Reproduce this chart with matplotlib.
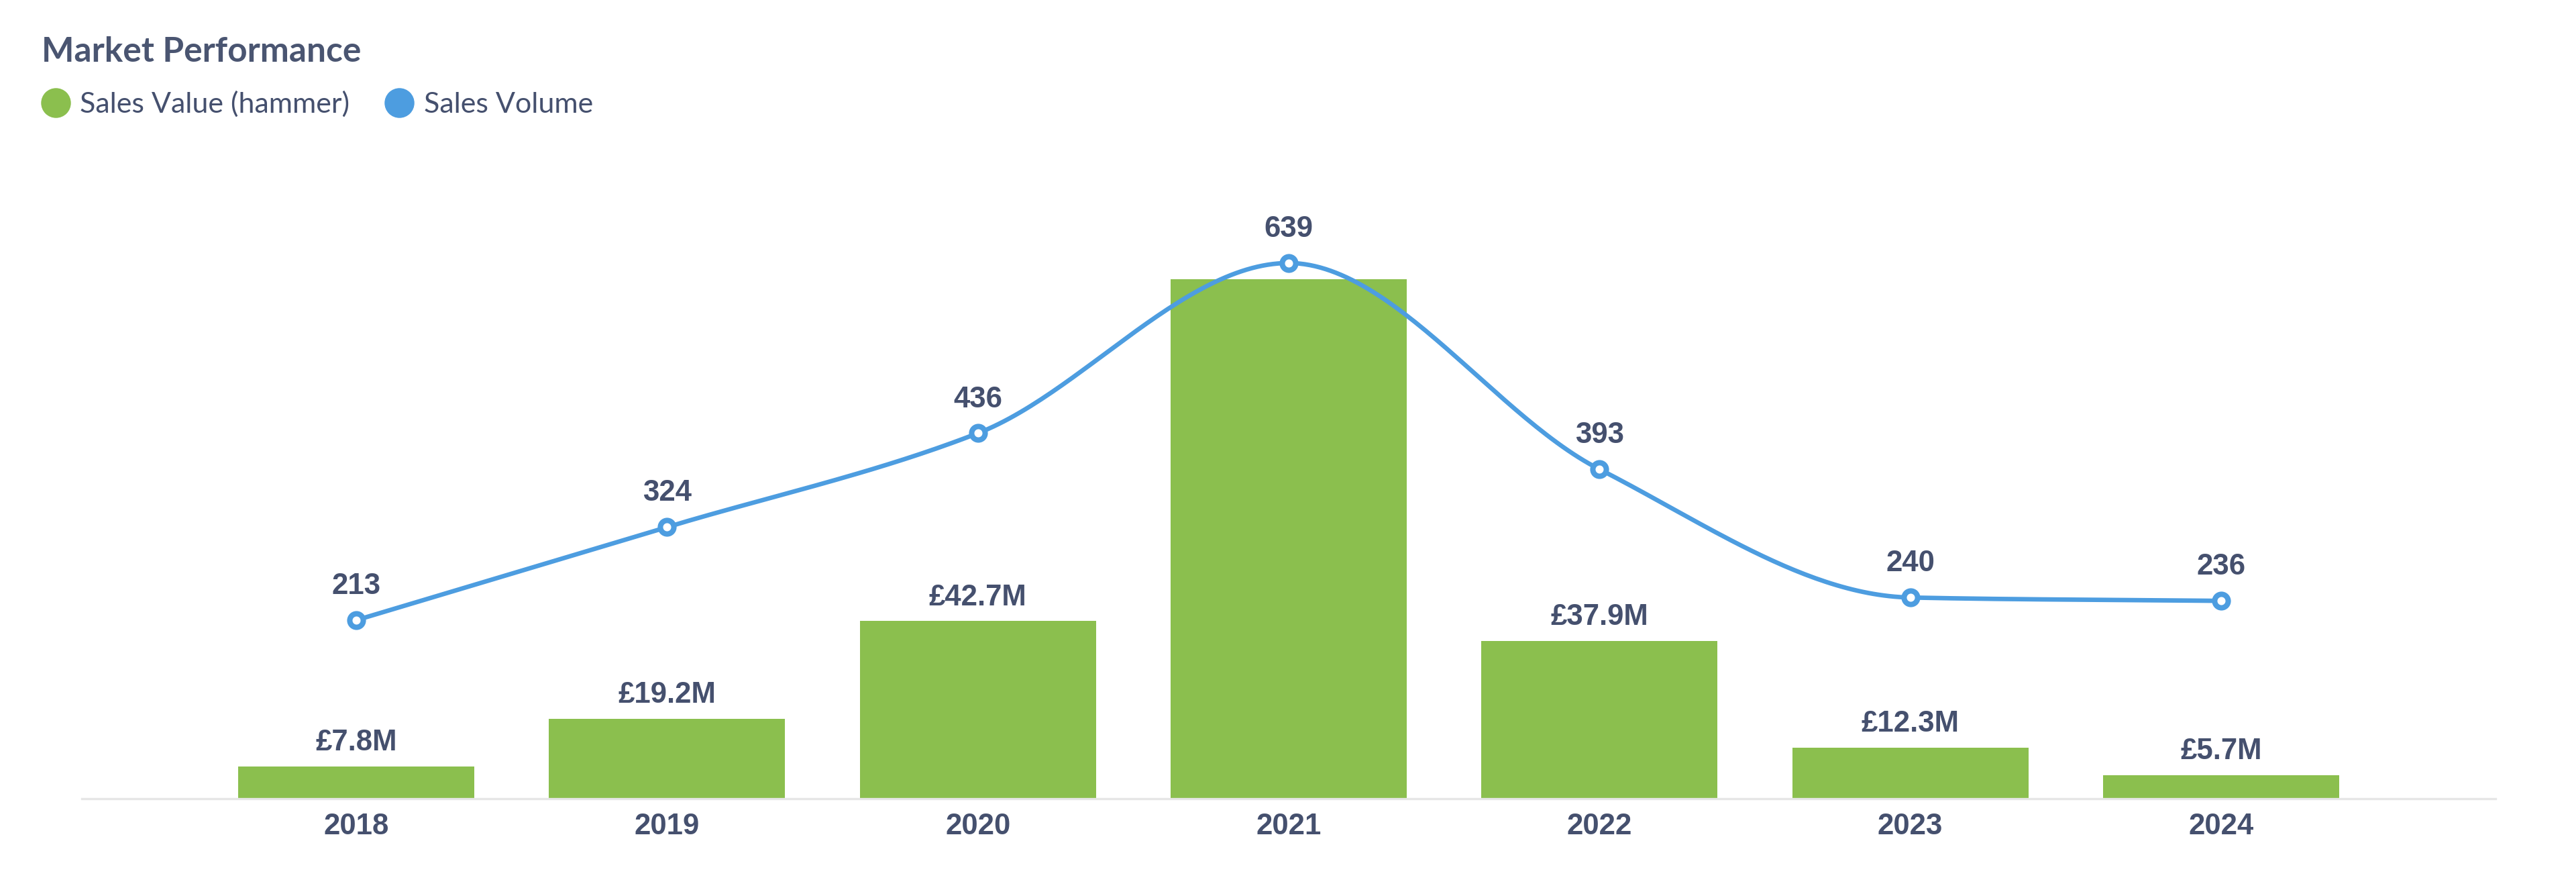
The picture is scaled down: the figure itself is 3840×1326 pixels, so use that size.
import matplotlib
matplotlib.use('Agg')
import matplotlib.pyplot as plt
from matplotlib.lines import Line2D
import numpy as np

# data
years = ['2018', '2019', '2020', '2021', '2022', '2023', '2024']
sales_value = [7.8, 19.2, 42.7, 124.8, 37.9, 12.3, 5.7]      # £M (hammer)
value_labels = ['£7.8M', '£19.2M', '£42.7M', '', '£37.9M', '£12.3M', '£5.7M']
sales_volume = [213, 324, 436, 639, 393, 240, 236]

GREEN = '#8bbf4e'
BLUE = '#4d9de0'
TEXT = '#45506e'
TITLE = '#4a5571'
NUMFONT = ['Liberation Sans', 'DejaVu Sans']
LATO = ['Lato', 'DejaVu Sans']

W, H = 3840, 1326
fig = plt.figure(figsize=(W / 100, H / 100), dpi=100)
fig.patch.set_facecolor('white')

# plot area in pixels
left, right, bottom, top = 122, 3720, 1190, 260
ax = fig.add_axes([left / W, 1 - bottom / H, (right - left) / W, (bottom - top) / H])
ax2 = ax.twinx()

x = np.arange(len(years))

# bars
ax.bar(x, sales_value, width=0.76, color=GREEN, zorder=2)
ax.set_xlim(-0.883, len(years) - 1 + 0.883)
ax.set_ylim(0, (bottom - top) / 6.2)
for xi, v, lab in zip(x, sales_value, value_labels):
    if lab:
        ax.annotate(lab, (xi, v), xytext=(0, 17), textcoords='offset points',
                    ha='center', va='baseline', fontsize=31.5, fontweight='bold',
                    color=TEXT, family=NUMFONT)

# smooth line (monotone cubic, Fritsch-Carlson)
yv = np.array(sales_volume, dtype=float)
d = np.diff(yv)
m = np.zeros_like(yv)
m[0], m[-1] = d[0], d[-1]
for i in range(1, len(yv) - 1):
    if d[i - 1] * d[i] > 0:
        m[i] = 2.0 / (1.0 / d[i - 1] + 1.0 / d[i])
xs, ys = [], []
for i in range(len(yv) - 1):
    t = np.linspace(0, 1, 60)
    h00 = 2 * t**3 - 3 * t**2 + 1
    h10 = t**3 - 2 * t**2 + t
    h01 = -2 * t**3 + 3 * t**2
    h11 = t**3 - t**2
    xs.append(x[i] + t)
    ys.append(h00 * yv[i] + h10 * m[i] + h01 * yv[i + 1] + h11 * m[i + 1])
ax2.plot(np.concatenate(xs), np.concatenate(ys), color=BLUE, lw=4.8,
         solid_capstyle='round', zorder=3)
ax2.plot(x, sales_volume, 'o', color=BLUE, markersize=14.5, markerfacecolor='white',
         markeredgewidth=5.8, markeredgecolor=BLUE, zorder=4, linestyle='none')
ax2.set_ylim(0, (bottom - top) / 1.249)
for xi, v in zip(x, sales_volume):
    ax2.annotate(str(v), (xi, v), xytext=(0, 28), textcoords='offset points',
                 ha='center', va='baseline', fontsize=31.5, fontweight='bold',
                 color=TEXT, family=NUMFONT)

# axes styling
for a in (ax, ax2):
    for s in a.spines.values():
        s.set_visible(False)
    a.set_yticks([])
ax.spines['bottom'].set_visible(True)
ax.spines['bottom'].set_color('#e6e6e6')
ax.spines['bottom'].set_linewidth(2.4)
ax.set_xticks(x)
ax.set_xticklabels(years, fontsize=31.5, fontweight='bold', color=TEXT, family=NUMFONT)
ax.tick_params(axis='x', length=0, pad=15)

# title and legend
fig.text(62 / W, 1 - 92 / H, 'Market Performance', fontsize=37, fontweight='bold',
         color=TITLE, family=LATO, va='baseline', ha='left')
for cx, tx, col, lab in [(83, 119, GREEN, 'Sales Value (hammer)'),
                         (595, 632, BLUE, 'Sales Volume')]:
    fig.add_artist(Line2D([cx / W], [1 - 153 / H], marker='o', markersize=31,
                          color=col, linestyle='none', transform=fig.transFigure))
    fig.text(tx / W, 1 - 168 / H, lab, fontsize=31, color=TEXT, family=LATO,
             va='baseline', ha='left')

fig.savefig('out.png', dpi=100, facecolor='white')
